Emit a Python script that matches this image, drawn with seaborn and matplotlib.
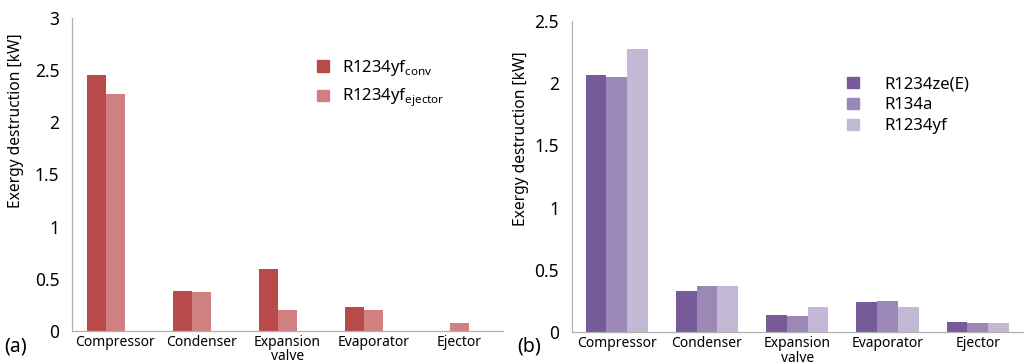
import pandas as pd
import seaborn as sns
import matplotlib.pyplot as plt

components = ["Compressor", "Condenser", "Expansion\nvalve", "Evaporator", "Ejector"]

# panel (a)
conv_a = [2.45, 0.386, 0.59, 0.227, 0.0]
ejector_a = [2.27, 0.374, 0.20, 0.20, 0.08]
# panel (b)
r1234ze = [2.065, 0.33, 0.139, 0.24, 0.08]
r134a = [2.045, 0.374, 0.133, 0.251, 0.077]
r1234yf = [2.276, 0.374, 0.203, 0.203, 0.077]

lab_conv = r"R1234yf$_{\mathrm{conv}}$"
lab_ej = r"R1234yf$_{\mathrm{ejector}}$"

sns.set_style("white")
plt.rcParams["font.family"] = ["Noto Sans", "DejaVu Sans"]
plt.rcParams["mathtext.fontset"] = "custom"
plt.rcParams["mathtext.rm"] = "Noto Sans"
plt.rcParams["text.color"] = "black"
plt.rcParams["axes.labelcolor"] = "black"
plt.rcParams["xtick.labelcolor"] = "black"
plt.rcParams["ytick.labelcolor"] = "black"

df_a = pd.DataFrame({
    "component": components * 3,
    "value": conv_a + ejector_a + [0.0] * 5,
    "case": [lab_conv] * 5 + [lab_ej] * 5 + ["_empty"] * 5,
})
df_b = pd.DataFrame({
    "component": components * 3,
    "value": r1234ze + r134a + r1234yf,
    "case": ["R1234ze(E)"] * 5 + ["R134a"] * 5 + ["R1234yf"] * 5,
})

pal_a = {lab_conv: "#b84a4b", lab_ej: "#d18082", "_empty": "white"}
pal_b = {"R1234ze(E)": "#775a98", "R134a": "#9b88b6", "R1234yf": "#c4b9d4"}

fig = plt.figure(figsize=(10.28, 3.64), dpi=100)
ax1 = fig.add_axes([0.070, 0.091, 0.419, 0.860])
ax2 = fig.add_axes([0.556, 0.087, 0.439, 0.856])

sns.barplot(data=df_a, x="component", y="value", hue="case", palette=pal_a,
            hue_order=[lab_conv, lab_ej, "_empty"], width=0.66,
            saturation=1, linewidth=0, ax=ax1, legend=False)
sns.barplot(data=df_b, x="component", y="value", hue="case", palette=pal_b,
            width=0.69, saturation=1, linewidth=0, ax=ax2, legend=False)

for ax, ymax, step in [(ax1, 3, 0.5), (ax2, 2.5, 0.5)]:
    ax.set_ylim(0, ymax)
    ax.set_xlim(-0.5, 4.5)
    ax.set_yticks([i * step for i in range(int(ymax / step) + 1)])
    ax.set_yticklabels([f"{v:g}" for v in ax.get_yticks()], fontsize=12.5)
    ax.set_xticks(range(5))
    ax.set_xticklabels(components, fontsize=10, linespacing=0.95)
    ax.set_xticks([i + 0.5 for i in range(-1, 5)], minor=True)
    ax.tick_params(axis="x", which="major", length=0, pad=3)
    ax.tick_params(axis="x", which="minor", length=3, color="#b0b0b0", width=0.8)
    ax.tick_params(axis="y", length=3, color="#b0b0b0", width=0.8, pad=6)
    for s in ["top", "right"]:
        ax.spines[s].set_visible(False)
    for s in ["left", "bottom"]:
        ax.spines[s].set_color("#b0b0b0")
        ax.spines[s].set_linewidth(0.9)
    ax.set_xlabel("")
    ax.set_ylabel("Exergy destruction [kW]", fontsize=11.2)

ax1.yaxis.set_label_coords(-0.112, 0.67)
ax2.yaxis.set_label_coords(-0.095, 0.62)

h_a = [plt.Rectangle((0, 0), 1, 1, color=pal_a[k]) for k in [lab_conv, lab_ej]]
ax1.legend(h_a, [lab_conv, lab_ej], frameon=False, fontsize=12,
           loc="upper left", bbox_to_anchor=(0.535, 0.92),
           handlelength=0.7, handleheight=0.7, handletextpad=0.8, labelspacing=0.55)
h_b = [plt.Rectangle((0, 0), 1, 1, color=c) for c in pal_b.values()]
ax2.legend(h_b, list(pal_b.keys()), frameon=False, fontsize=12,
           loc="upper left", bbox_to_anchor=(0.578, 0.87),
           handlelength=0.7, handleheight=0.7, handletextpad=1.5, labelspacing=0.3)

fig.text(0.004, 0.035, "(a)", fontsize=14)
fig.text(0.503, 0.035, "(b)", fontsize=14)

fig.savefig("out.png", dpi=100)
